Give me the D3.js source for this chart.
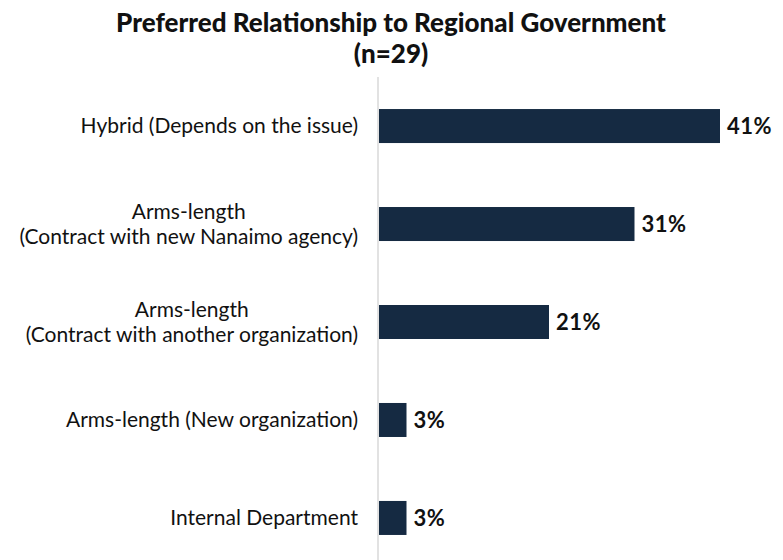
<!DOCTYPE html>
<html>
<head>
<meta charset="utf-8">
<script src="https://cdn.jsdelivr.net/npm/d3@7"></script>
<style>
  html, body { margin: 0; padding: 0; background: #fff; }
  svg { display: block; }
  text { font-family: "Lato", "Open Sans", sans-serif; fill: #111; }
</style>
</head>
<body>
<svg id="chart" width="783" height="560"></svg>
<script>
// Survey responses (n=29), share of respondents in percent
const titleLines = ["Preferred Relationship to Regional Government", "(n=29)"];
const categories = [
  ["Hybrid (Depends on the issue)"],
  ["Arms-length", "(Contract with new Nanaimo agency)"],
  ["Arms-length", "(Contract with another organization)"],
  ["Arms-length (New organization)"],
  ["Internal Department"]
];
const counts = [12, 9, 6, 1, 1];
const total = 29;
const values = counts.map(c => c / total * 100);

const svg = d3.select("#chart");
const W = 783, H = 560;
const axisX = 378;

const x = d3.scaleLinear().domain([0, 41.38]).range([axisX, 720]);
const y = d3.scaleBand()
  .domain(d3.range(categories.length))
  .range([77, 567])
  .paddingInner(0.653)
  .paddingOuter(0.327);

// Title
svg.append("g").selectAll("text")
  .data(titleLines)
  .join("text")
  .attr("x", 391)
  .attr("y", (d, i) => 32 + i * 31)
  .attr("text-anchor", "middle")
  .style("font-size", "26px")
  .style("font-weight", "900")
  .text(d => d);

// Vertical category axis line
svg.append("line")
  .attr("x1", axisX).attr("x2", axisX)
  .attr("y1", 77).attr("y2", H)
  .attr("stroke", "#d9d9d9")
  .attr("stroke-width", 1.5);

// Bars
svg.append("g").selectAll("rect")
  .data(values)
  .join("rect")
  .attr("x", axisX + 1)
  .attr("y", (d, i) => y(i))
  .attr("width", d => x(d) - axisX - 1)
  .attr("height", y.bandwidth())
  .attr("fill", "#152a42");

// Value labels
const fmt = d3.format(".0f");
svg.append("g").selectAll("text")
  .data(values)
  .join("text")
  .attr("x", d => x(d) + 7)
  .attr("y", (d, i) => y(i) + y.bandwidth() / 2)
  .attr("dy", "0.36em")
  .style("font-size", "22px")
  .style("font-weight", "700")
  .style("letter-spacing", "0.5px")
  .text(d => fmt(d) + "%");

// Category labels (multi-line, centred block, right-aligned to the axis)
const labelG = svg.append("g");
categories.forEach((lines, i) => {
  const cy = y(i) + y.bandwidth() / 2;
  const lineH = 25;
  const t = labelG.append("text")
    .style("font-size", "21px")
    .attr("text-anchor", "end");
  const tsp = lines.map((ln, j) => t.append("tspan")
    .attr("x", 358)
    .attr("y", cy + (j - (lines.length - 1) / 2) * lineH)
    .attr("dy", "0.35em")
    .text(ln));
  if (lines.length > 1) {
    // centre each line within the widest line's extent
    const widths = tsp.map(s => s.node().getComputedTextLength());
    const maxW = d3.max(widths);
    tsp.forEach((s, j) => s.attr("x", 358 - (maxW - widths[j]) / 2));
  }
});
</script>
</body>
</html>
